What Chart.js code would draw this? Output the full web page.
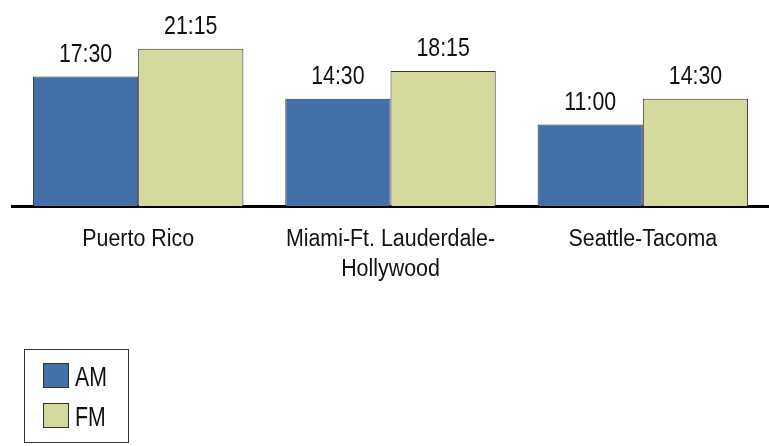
<!DOCTYPE html>
<html>
<head>
<meta charset="utf-8">
<script src="https://cdn.jsdelivr.net/npm/chart.js@4"></script>
<style>
  html, body { margin: 0; padding: 0; background: #fff; }
  #wrap { width: 769px; height: 446px; }
</style>
</head>
<body>
<div id="wrap"><canvas id="chart"></canvas></div>
<script>
// category labels (multi-line where the original wraps)
const markets = [['Puerto Rico'], ['Miami-Ft. Lauderdale-', 'Hollywood'], ['Seattle-Tacoma']];
// hours, e.g. 17.5 = 17:30
const amHours = [17.5, 14.5, 11];
const fmHours = [21.25, 18.25, 14.5];
const seriesNames = ['AM', 'FM'];
const seriesColors = ['#4470aa', '#d5d99e'];

const FONT = '"Liberation Sans", Arial, sans-serif';

function hhmm(v) {
  const h = Math.floor(v);
  const m = Math.round((v - h) * 60);
  return h + ':' + String(m).padStart(2, '0');
}

// draw text squeezed horizontally (the original type is narrow)
function squeezeText(ctx, text, x, y, size, sx) {
  ctx.save();
  ctx.translate(x, y);
  ctx.scale(sx, 1);
  ctx.font = size + 'px ' + FONT;
  ctx.fillText(text, 0, 0);
  ctx.restore();
}

const extras = {
  id: 'extras',
  afterDatasetsDraw(chart) {
    const ctx = chart.ctx;
    ctx.save();
    ctx.fillStyle = '#111';
    ctx.textAlign = 'center';
    ctx.textBaseline = 'alphabetic';

    // value labels above bars
    chart.data.datasets.forEach((ds, i) => {
      chart.getDatasetMeta(i).data.forEach((bar, j) => {
        squeezeText(ctx, hhmm(ds.data[j]), bar.x, bar.y - 15, 26, 0.82);
      });
    });

    // category labels
    const xs = chart.scales.x;
    markets.forEach((lines, i) => {
      const x = xs.getPixelForTick(i);
      lines.forEach((line, k) => {
        squeezeText(ctx, line, x, xs.bottom + 40 + k * 30, 23, 0.93);
      });
    });

    // legend box
    ctx.strokeStyle = '#333';
    ctx.lineWidth = 1;
    ctx.strokeRect(24.5, 349.5, 104, 93);
    ctx.textAlign = 'left';
    seriesNames.forEach((name, i) => {
      const y = 363 + i * 40;
      ctx.fillStyle = seriesColors[i];
      ctx.fillRect(43, y, 26, 25);
      ctx.strokeStyle = '#333';
      ctx.strokeRect(43.5, y + 0.5, 25, 24);
      ctx.fillStyle = '#111';
      squeezeText(ctx, name, 75, y + 23, 28, 0.76);
    });
    ctx.restore();
  }
};

new Chart(document.getElementById('chart'), {
  type: 'bar',
  data: {
    labels: markets,
    datasets: [
      { label: seriesNames[0], data: amHours, backgroundColor: seriesColors[0] },
      { label: seriesNames[1], data: fmHours, backgroundColor: seriesColors[1] }
    ]
  },
  options: {
    responsive: true,
    maintainAspectRatio: false,
    animation: false,
    layout: { padding: { left: 12, right: 0, top: 21, bottom: 240 } },
    datasets: {
      bar: {
        borderColor: '#333',
        borderWidth: 1,
        borderSkipped: 'bottom',
        categoryPercentage: 0.834,
        barPercentage: 1
      }
    },
    plugins: {
      legend: { display: false },
      tooltip: { enabled: false }
    },
    scales: {
      x: {
        grid: { display: false, drawTicks: false },
        ticks: { display: false },
        border: { display: true, color: '#000', width: 3 }
      },
      y: {
        display: false,
        min: 0,
        max: 25
      }
    }
  },
  plugins: [extras]
});
</script>
</body>
</html>
